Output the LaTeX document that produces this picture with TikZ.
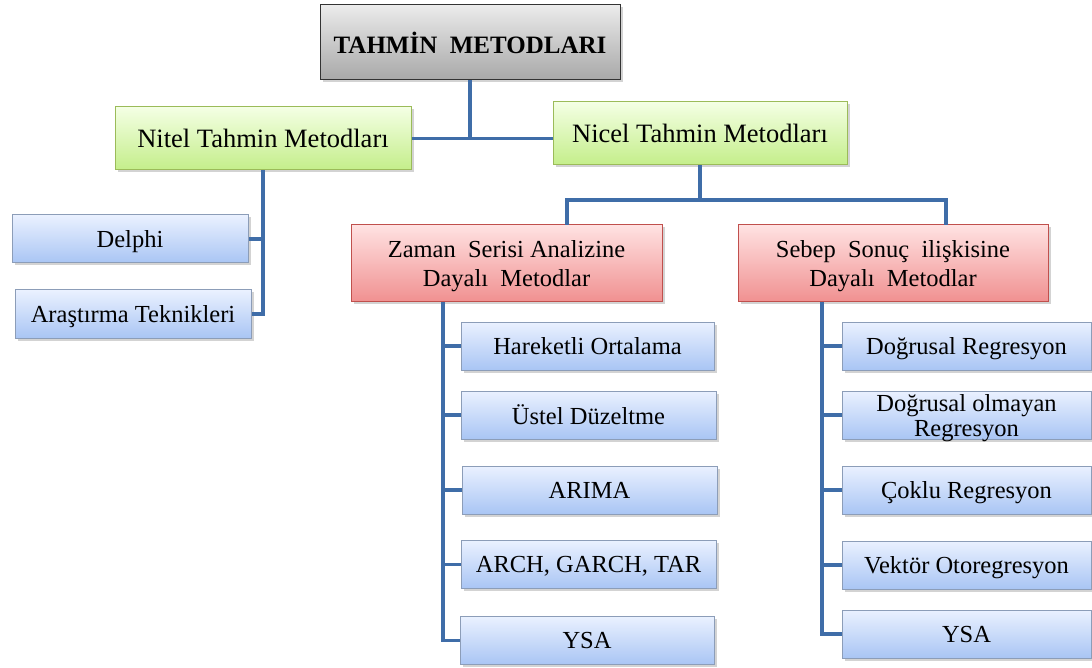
\documentclass[tikz,border=0pt]{standalone}
\usepackage{fontspec}
\setmainfont{Liberation Serif}
\usetikzlibrary{shadows}
\definecolor{conncol}{HTML}{3F6DA8}
\definecolor{graytop}{HTML}{EBEBEB}
\definecolor{graybot}{HTML}{A8A8A8}
\definecolor{greentop}{HTML}{F4FFE4}
\definecolor{greenbot}{HTML}{C4EE8A}
\definecolor{greenline}{HTML}{9BBB59}
\definecolor{redtop}{HTML}{FFE2E2}
\definecolor{redbot}{HTML}{F09090}
\definecolor{redline}{HTML}{C0504D}
\definecolor{bluetop}{HTML}{EAF1FF}
\definecolor{bluebot}{HTML}{A9C5F4}
\definecolor{blueline}{HTML}{8C9DB8}
\tikzset{
  box/.style={draw, line width=1pt, align=center, inner sep=2pt, text depth=0pt,
    drop shadow={opacity=0.35, shadow xshift=2.5pt, shadow yshift=-2.5pt},
    font=\fontsize{24.5}{29}\selectfont},
  titlebox/.style={box, draw=black!80, top color=graytop, bottom color=graybot,
    font=\fontsize{25}{30}\selectfont\bfseries},
  greenbox/.style={box, draw=greenline, top color=greentop, bottom color=greenbot,
    font=\fontsize{26.5}{30}\selectfont},
  redbox/.style={box, draw=redline, top color=redtop, bottom color=redbot},
  bluebox/.style={box, draw=blueline, top color=bluetop, bottom color=bluebot},
  conn/.style={draw=conncol, line width=3.5pt}
}
\begin{document}
\begin{tikzpicture}[x=1pt,y=-1pt]
\useasboundingbox (0,0) rectangle (1092,668);

% top level
\node[titlebox, minimum width=300pt, minimum height=75pt] (title) at (470,42.5) {TAHM\.IN\ \ METODLARI};
\node[greenbox, minimum width=296pt, minimum height=63pt] (nitel) at (263,138.5) {Nitel Tahmin Metodları};
\node[greenbox, minimum width=294pt, minimum height=63pt] (nicel) at (700,133.5) {Nicel Tahmin Metodları};

% qualitative methods
\node[bluebox, minimum width=236pt, minimum height=48pt] (delphi) at (130,239) {Delphi};
\node[bluebox, minimum width=236pt, minimum height=48pt] (arast) at (133,314) {Araştırma Teknikleri};

% quantitative groups
\node[redbox, minimum width=311pt, minimum height=77pt] (zaman) at (506.5,263.5) {Zaman\ \ Serisi Analizine\\Dayalı\ \ Metodlar};
\node[redbox, minimum width=310pt, minimum height=77pt] (sebep) at (893,263.5) {Sebep\ \ Sonuç\ \ ilişkisine\\Dayalı\ \ Metodlar};

% time-series methods
\node[bluebox, minimum width=253pt, minimum height=48pt] (ha) at (587.5,346) {Hareketli Ortalama};
\node[bluebox, minimum width=255pt, minimum height=48pt] (us) at (588.5,415) {Üstel Düzeltme};
\node[bluebox, minimum width=255pt, minimum height=48pt] (ar) at (589.5,490) {ARIMA};
\node[bluebox, minimum width=255pt, minimum height=48pt] (ag) at (588.5,564.5) {ARCH, GARCH, TAR};
\node[bluebox, minimum width=254pt, minimum height=48pt] (ys) at (587,640.5) {YSA};

% causal methods
\node[bluebox, minimum width=249pt, minimum height=48pt] (dr) at (966.5,346) {Doğrusal Regresyon};
\node[bluebox, minimum width=249pt, minimum height=48pt, font=\fontsize{24.5}{25}\selectfont] (dor) at (966.5,415) {Doğrusal olmayan\\Regresyon};
\node[bluebox, minimum width=249pt, minimum height=48pt] (cr) at (966.5,490) {Çoklu Regresyon};
\node[bluebox, minimum width=249pt, minimum height=48pt] (vo) at (966.5,565) {Vektör Otoregresyon};
\node[bluebox, minimum width=249pt, minimum height=48pt] (ys2) at (966.5,634) {YSA};

% connectors
\coordinate (j1) at (title.south |- nitel.east);
\draw[conn] (title.south) -- (j1);
\draw[conn] (nitel.east) -- (nitel.east -| nicel.west);

\draw[conn] (nitel.south) |- (delphi.east);
\draw[conn] (nitel.south) |- (arast.east);

\coordinate (bar) at (nicel.south |- 0,200);
\coordinate (zt) at (567,225);
\coordinate (st) at (946,225);
\draw[conn] (nicel.south) -- (bar);
\draw[conn] (zt) |- (bar) -| (st);

\coordinate (zb) at (443,302);
\draw[conn] (zb) |- (ys.west);
\foreach \n in {ha,us,ar,ag} \draw[conn] (zb |- \n.west) -- (\n.west);

\coordinate (sb) at (822,302);
\draw[conn] (sb) |- (ys2.west);
\foreach \n in {dr,dor,cr,vo} \draw[conn] (sb |- \n.west) -- (\n.west);
\end{tikzpicture}
\end{document}
